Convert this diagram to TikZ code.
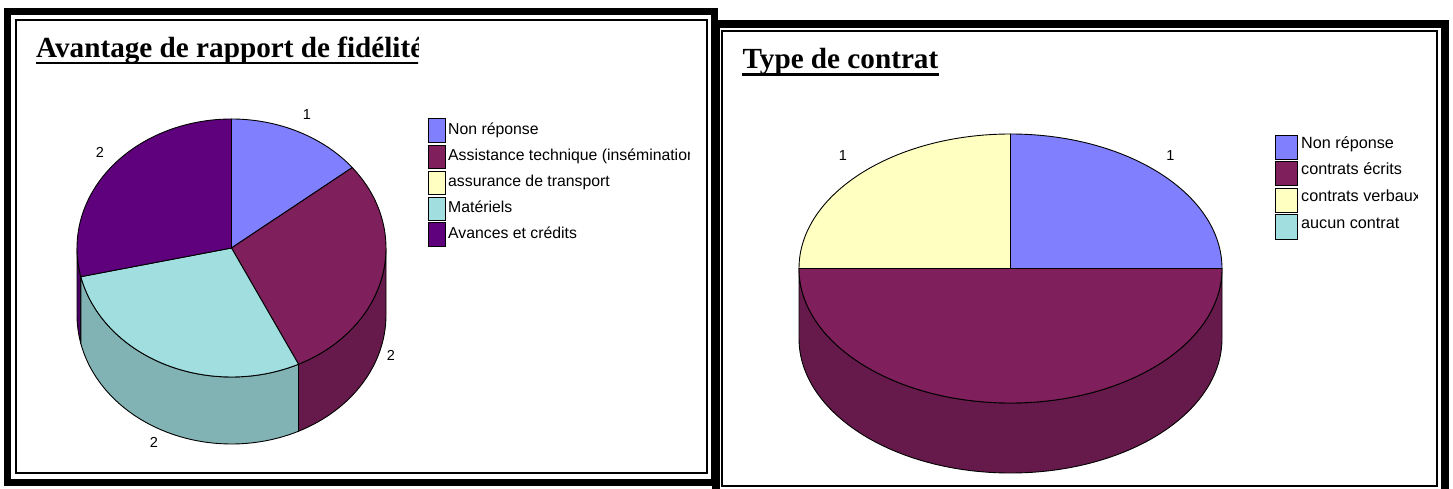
\documentclass[tikz,border=0pt]{standalone}
\usepackage{fontspec}
\setmainfont{Liberation Serif}[Ligatures=NoCommon]
\setsansfont{Liberation Sans}
\usepackage{tikz}
\usetikzlibrary{arrows.meta}
\definecolor{nrblue}{HTML}{8080FF}
\definecolor{plum}{HTML}{7F1F5C}
\definecolor{plumside}{HTML}{661A4B}
\definecolor{ivory}{HTML}{FFFFC2}
\definecolor{aqua}{HTML}{A1DEDF}
\definecolor{aquaside}{HTML}{81B3B4}
\definecolor{grape}{HTML}{5F007D}
\definecolor{grapeside}{HTML}{4C0064}
\tikzset{
    >=Stealth,
    frameout/.style={draw=black,line width=7pt},
    framein/.style={draw=black,line width=2pt},
    slice/.style={draw=black,line width=0.9pt,line join=round},
    lpie/.style={x radius=154.5,y radius=129},
    rpie/.style={x radius=211.5,y radius=134.5},
    charttitle/.style={anchor=base west,inner sep=0,font=\fontsize{29.2}{34}\selectfont\bfseries},
    titleline/.style={draw=black,line width=2.7pt},
    legkey/.style={draw=black,line width=0.9pt,anchor=north west,inner sep=0},
    legtext/.style={anchor=base west,inner sep=0},
    pielbl/.style={inner sep=0,font=\sffamily\fontsize{14.5}{17}\selectfont}
}

\begin{document}
\begin{tikzpicture}[x=1pt,y=1pt]
\useasboundingbox (0,0) rectangle (1453,-489);

% frames
\draw[frameout,line width=8pt] (715.5,-24) rectangle (1444.5,-495);
\draw[framein] (722,-31.5) rectangle (1437.3,-486);
\draw[frameout] (7,-11.3) rectangle (714.3,-482);
\draw[framein] (15.7,-19.9) rectangle (707,-473);

% left chart
\begin{scope}
  \clip (20,-25) rectangle (418,-80);
  \node[charttitle] (titleL) at (36,-57.3) {Avantage de rapport de fidélité};
  \draw[titleline] ([yshift=-5.7pt]titleL.base west) -- ([yshift=-5.7pt]titleL.base east);
\end{scope}

\coordinate (pieL) at (231.5,-248);
\filldraw[slice,fill=grapeside] (pieL) ++(-180:154.5 and 129) arc[lpie,start angle=-180,end angle=-167.14] -- ++(0,-67) arc[lpie,start angle=-167.14,end angle=-180] -- cycle;
\filldraw[slice,fill=aquaside] (pieL) ++(-167.14:154.5 and 129) arc[lpie,start angle=-167.14,end angle=-64.29] -- ++(0,-67) arc[lpie,start angle=-64.29,end angle=-167.14] -- cycle;
\filldraw[slice,fill=plumside] (pieL) ++(-64.29:154.5 and 129) arc[lpie,start angle=-64.29,end angle=0] -- ++(0,-67) arc[lpie,start angle=0,end angle=-64.29] -- cycle;
\filldraw[slice,fill=nrblue] (pieL) -- ++(90:154.5 and 129) arc[lpie,start angle=90,end angle=38.57] -- cycle;
\filldraw[slice,fill=plum] (pieL) -- ++(38.57:154.5 and 129) arc[lpie,start angle=38.57,end angle=-64.29] -- cycle;
\filldraw[slice,fill=aqua] (pieL) -- ++(-64.29:154.5 and 129) arc[lpie,start angle=-64.29,end angle=-167.14] -- cycle;
\filldraw[slice,fill=grape] (pieL) -- ++(-167.14:154.5 and 129) arc[lpie,start angle=-167.14,end angle=-270] -- cycle;

\node[pielbl] (lblLa) at (307,-115) {1};
\node[pielbl] (lblLb) at (391,-355) {2};
\node[pielbl] (lblLc) at (154,-442) {2};
\node[pielbl] (lblLd) at (100,-152) {2};

\begin{scope}[legkey/.append style={minimum width=17.3pt,minimum height=23.4pt},
              legtext/.append style={font=\sffamily\fontsize{15.8}{18}\selectfont}]
  \clip (420,-100) rectangle (689,-260);
  \node[legkey,fill=nrblue] (keyLa) at (427.7,-118.3) {};
  \node[legkey,fill=plum] (keyLb) at (427.7,-145) {};
  \node[legkey,fill=ivory] (keyLc) at (427.7,-170.7) {};
  \node[legkey,fill=aqua] (keyLd) at (427.7,-196.7) {};
  \node[legkey,fill=grape] (keyLe) at (427.7,-222.3) {};
  \node[legtext] (txtLa) at (448,-134.3) {Non réponse};
  \node[legtext] (txtLb) at (448,-161) {Assistance technique (insémination)};
  \node[legtext] (txtLc) at (448,-186.7) {assurance de transport};
  \node[legtext] (txtLd) at (448,-212.7) {Matériels};
  \node[legtext] (txtLe) at (448,-238.3) {Avances et crédits};
\end{scope}

% right chart
\node[charttitle] (titleR) at (742.4,-68.3) {Type de contrat};
\draw[titleline,line width=3pt] ([yshift=-6pt]titleR.base west) -- ([yshift=-6pt]titleR.base east);

\coordinate (pieR) at (1010.5,-268.5);
\filldraw[slice,fill=plumside] (pieR) ++(-180:211.5 and 134.5) arc[rpie,start angle=-180,end angle=0] -- ++(0,-70) arc[rpie,start angle=0,end angle=-180] -- cycle;
\filldraw[slice,fill=nrblue] (pieR) -- ++(90:211.5 and 134.5) arc[rpie,start angle=90,end angle=0] -- cycle;
\filldraw[slice,fill=plum] (pieR) -- ++(0:211.5 and 134.5) arc[rpie,start angle=0,end angle=-180] -- cycle;
\filldraw[slice,fill=ivory] (pieR) -- ++(180:211.5 and 134.5) arc[rpie,start angle=180,end angle=90] -- cycle;

\node[pielbl] (lblRa) at (1170.5,-156) {1};
\node[pielbl] (lblRb) at (843,-156) {1};

\begin{scope}[legkey/.append style={minimum width=22pt,minimum height=24.3pt},
              legtext/.append style={font=\sffamily\fontsize{16.2}{19}\selectfont}]
  \clip (1265,-120) rectangle (1417,-250);
  \node[legkey,fill=nrblue] (keyRa) at (1275,-135) {};
  \node[legkey,fill=plum] (keyRb) at (1275,-161) {};
  \node[legkey,fill=ivory] (keyRc) at (1275,-187.7) {};
  \node[legkey,fill=aqua] (keyRd) at (1275,-214.3) {};
  \node[legtext] (txtRa) at (1301,-149) {Non réponse};
  \node[legtext] (txtRb) at (1301,-175) {contrats écrits};
  \node[legtext] (txtRc) at (1301,-201.7) {contrats verbaux};
  \node[legtext] (txtRd) at (1301,-228.3) {aucun contrat};
\end{scope}
\end{tikzpicture}
\end{document}
